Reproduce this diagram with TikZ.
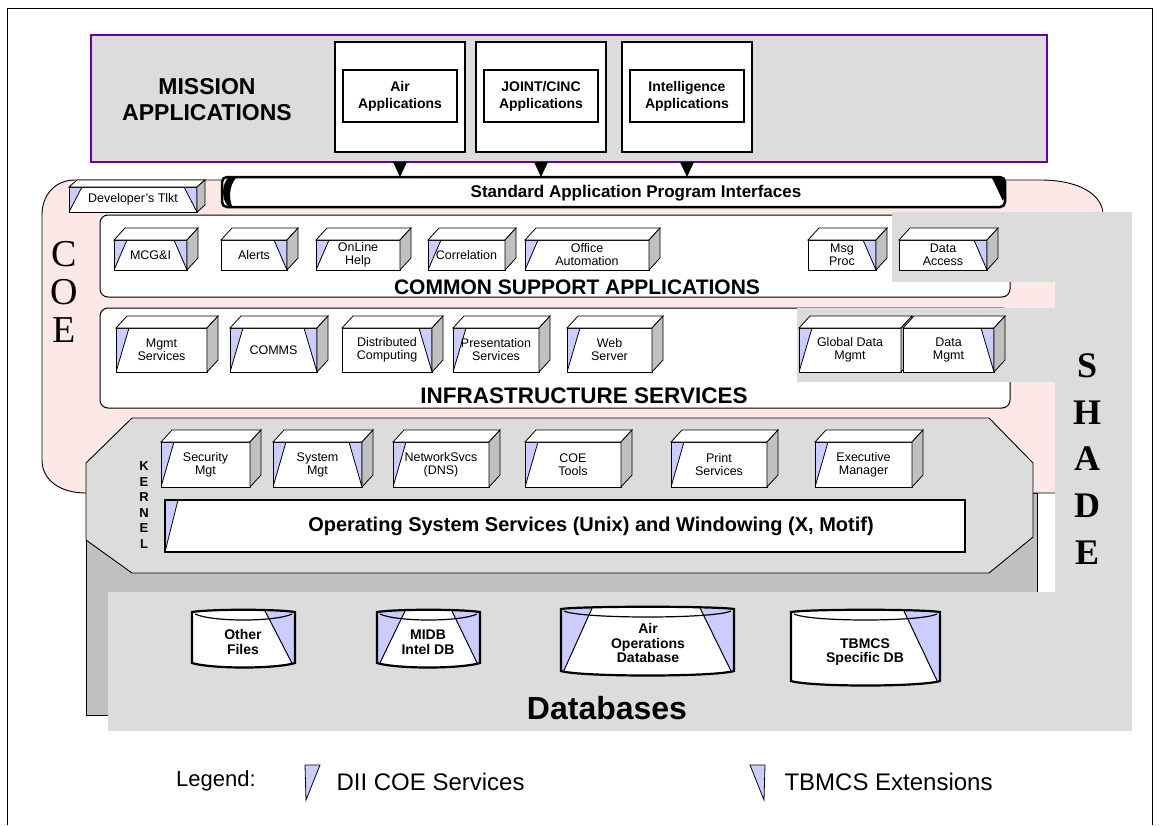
\documentclass[tikz,border=0pt]{standalone}
\usepackage{fontspec}
\setmainfont{Liberation Sans}
\newfontfamily\romanfont{Liberation Serif}

\definecolor{lavwedge}{RGB}{204,204,255}
\definecolor{shadegray}{RGB}{220,220,220}
\definecolor{sidegray}{RGB}{192,192,192}
\definecolor{coepink}{RGB}{253,232,232}
\definecolor{mispurple}{RGB}{102,0,153}

\tikzset{
  svcbox/.style={draw,fill=white,line width=0.8pt,outer sep=0pt,inner sep=1pt,align=center,
    font=\fontsize{12.5}{13}\selectfont},
  dii/.style={path picture={\fill[lavwedge,draw=black,line width=0.8pt]
    (path picture bounding box.north west) -- ++(13,0) -- (path picture bounding box.south west) -- cycle;}},
  tbm/.style={path picture={\fill[lavwedge,draw=black,line width=0.8pt]
    (path picture bounding box.north east) -- ++(-13,0) -- (path picture bounding box.south east) -- cycle;}},
  dtw/.style={path picture={\fill[lavwedge,draw=black,line width=0.8pt]
    (path picture bounding box.north west) -- ++(13,0) -- (path picture bounding box.south west) -- cycle;
    \fill[lavwedge,draw=black,line width=0.8pt]
    (path picture bounding box.north east) -- ++(-13,0) -- (path picture bounding box.south east) -- cycle;}},
  dbl/.style={path picture={\fill[lavwedge,draw=black,line width=1pt]
    (path picture bounding box.north west) -- ++(#1,0) -- (path picture bounding box.south west) -- cycle;}},
  dbr/.style={path picture={\fill[lavwedge,draw=black,line width=1pt]
    (path picture bounding box.north east) -- ++(-#1,0) -- (path picture bounding box.south east) -- cycle;}},
  dbboth/.style 2 args={path picture={\fill[lavwedge,draw=black,line width=1pt]
    (path picture bounding box.north west) -- ++(#1,0) -- (path picture bounding box.south west) -- cycle;
    \fill[lavwedge,draw=black,line width=1pt]
    (path picture bounding box.north east) -- ++(-#2,0) -- (path picture bounding box.south east) -- cycle;}},
  appbox/.style={draw,fill=white,line width=2.6pt,minimum width=130,minimum height=110,outer sep=0pt},
  appname/.style={draw,fill=white,line width=1.2pt,align=center,minimum width=114,minimum height=52,
    font=\bfseries\fontsize{14}{17}\selectfont},
  layerbox/.style={draw,fill=white,line width=1pt,rounded corners=8pt,minimum width=910,outer sep=0pt},
  layertitle/.style={font=\bfseries\fontsize{21}{23}\selectfont},
  dbname/.style={align=center,font=\bfseries\fontsize{14}{14.5}\selectfont},
  legendtext/.style={anchor=west,font=\fontsize{24}{26}\selectfont},
}

% faces of a 3D box on top of a named node
\newcommand{\cubefaces}[3]{%
  \draw[fill=white,line width=0.8pt] (#1.north west) -- ([shift={(#2,-#3)}]#1.north west)
    -- ([shift={(#2,-#3)}]#1.north east) -- (#1.north east) -- cycle;
  \draw[fill=sidegray,line width=0.8pt] (#1.north east) -- ([shift={(#2,-#3)}]#1.north east)
    -- ([shift={(#2,-#3)}]#1.south east) -- (#1.south east) -- cycle;}
% name, left, right, top, bottom, wedges, text
\newcommand{\svc}[7]{%
  \node[svcbox,#6,minimum width={#3-#2},minimum height={#5-#4}] (#1) at ({(#2+#3)/2},{(#4+#5)/2}) {#7};
  \cubefaces{#1}{11}{12}}
% left, right, top, bottom, wedges
\newcommand{\drum}[5]{%
  \draw[line width=2.2pt,fill=white,#5] ({#1},{#3}) -- ({#1},{#4-4})
    .. controls ({#1+20},{#4+2}) and ({#2-20},{#4+2}) .. ({#2},{#4-4}) -- ({#2},{#3})
    .. controls ({#2-20},{#3-3}) and ({#1+20},{#3-3}) .. cycle;
  \draw[line width=1.2pt] ({#1+3},{#3+2}) .. controls ({#1+20},{#3+10}) and ({#2-20},{#3+10}) .. ({#2-3},{#3+2});}

\begin{document}
\begin{tikzpicture}[x=1pt,y=-1pt]
\useasboundingbox (0,0) rectangle (1159,825);
\draw[line width=1pt] (7,825) -- (7,8) -- (1152,8) -- (1152,825);

% mission applications
\node[draw=mispurple,fill=shadegray,line width=1.2pt,minimum width=956,minimum height=127,outer sep=0pt] (mission) at (569,98.5) {};
\node[align=center,font=\bfseries\fontsize{23}{26}\selectfont] (mislabel) at (207,100) {MISSION\\APPLICATIONS};
\node[appbox] (air) at (400,97) {};
\node[appname] (airname) at (400,96) {Air\\Applications};
\node[appbox] (joint) at (541,97) {};
\node[appname] (jointname) at (541,96) {JOINT/CINC\\Applications};
\node[appbox] (intel) at (687,97) {};
\node[appname] (intelname) at (687,96) {Intelligence\\Applications};

% kernel base and COE region
\draw[fill=sidegray,line width=0.9pt] (86,493) rectangle (1037,715);
\draw[fill=coepink,line width=0.9pt] (42,215) .. controls (42,195) and (55,180) .. (75,180) -- (1040,180)
  .. controls (1080,180) and (1103,195) .. (1103,215) -- (1103,493) -- (86,493)
  .. controls (60,493) and (42,480) .. (42,460) -- cycle;

% API bar
\node[draw,fill=white,line width=2.5pt,rounded corners=5pt,minimum width=783,minimum height=30,outer sep=0pt] (api) at (613.5,192) {};
\node[font=\bfseries\fontsize{17}{19}\selectfont] (apilabel) at (636,193) {Standard Application Program Interfaces};
\fill (236,178) -- (228,178) .. controls (222,184) and (221,199) .. (228,206) -- (232,206) .. controls (229,198) and (229,186) .. (236,178) -- cycle;
\fill (992,178) -- (1003,178) .. controls (1006,186) and (1006,194) .. (1003,201) -- cycle;
\fill (air |- mission.south) ++(-7,0) -- ++(14,0) -- (air |- api.north) -- cycle;
\fill (joint |- mission.south) ++(-7,0) -- ++(14,0) -- (joint |- api.north) -- cycle;
\fill (intel |- mission.south) ++(-7,0) -- ++(14,0) -- (intel |- api.north) -- cycle;

% developer's toolkit
\node[svcbox,dtw,minimum width=128,minimum height=25] (devtk) at (133,199.5) {Developer's Tlkt};
\cubefaces{devtk}{8}{7}

% layers
\node[layerbox,minimum height=82] (csa) at (555,256) {};
\node[layerbox,minimum height=100] (infra) at (555,358) {};

% shade
\fill[shadegray] (892,212) rectangle (1132,282);
\fill[shadegray] (797,308) rectangle (1132,382);
\fill[shadegray] (1055,212) rectangle (1132,592);
\node[fill=shadegray,minimum width=1024,minimum height=139,outer sep=0pt] (dbarea) at (620,661.5) {};

% common support applications
\svc{mcgi}{114}{187}{240}{270}{dtw}{MCG\&I}
\svc{alerts}{221}{287}{240}{270}{tbm}{Alerts}
\svc{help}{316}{400}{240}{270}{dii}{OnLine\\Help}
\svc{correl}{428}{505}{240}{270}{dii}{Correlation}
\svc{office}{525}{649}{240}{270}{dii}{Office\\Automation}
\svc{msgproc}{808}{876}{240}{270}{tbm}{Msg\\Proc}
\svc{dataacc}{899}{987}{240}{270}{tbm}{Data\\Access}
\node[layertitle] (csalabel) at (577,287) {COMMON SUPPORT APPLICATIONS};

% infrastructure services
\svc{mgmt}{116}{207}{328}{372}{dii}{Mgmt\\Services}
\svc{comms}{230}{317}{328}{372}{dtw}{COMMS}
\svc{distcomp}{342}{432}{328}{372}{tbm}{Distributed\\Computing}
\svc{present}{453}{539}{328}{372}{dii}{Presentation\\Services}
\svc{websrv}{567}{652}{328}{372}{dii}{Web\\Server}
\svc{globdata}{799}{901}{328}{372}{dii}{Global Data\\Mgmt}
\svc{datamgmt}{903}{994}{328}{372}{tbm}{Data\\Mgmt}
\node[layertitle,font=\bfseries\fontsize{22.5}{24}\selectfont] (infralabel) at (584,396) {INFRASTRUCTURE SERVICES};

% kernel
\draw[fill=shadegray,line width=0.9pt] (132,418) -- (989,418) -- (1033,463) -- (1033,537) -- (989,573)
  -- (132,573) -- (86,540) -- (86,463) -- cycle;
\node[align=center,font=\bfseries\fontsize{13}{15.5}\selectfont] (kernel) at (144,505) {K\\E\\R\\N\\E\\L};
\svc{secmgt}{161}{250}{442}{487}{dii}{Security\\Mgt}
\svc{sysmgt}{273}{362}{442}{487}{dtw}{System\\Mgt}
\svc{netsvc}{393}{489}{442}{487}{dii}{NetworkSvcs\\(DNS)}
\svc{coetools}{525}{621}{442}{487}{dii}{COE\\Tools}
\svc{printsvc}{671}{767}{442}{487}{dii}{Print\\Services}
\svc{execmgr}{815}{912}{442}{487}{dii}{Executive\\Manager}
\node[draw,fill=white,line width=2.6pt,minimum width=800,minimum height=52,outer sep=0pt,dii] (osbar) at (565,526) {};
\node[font=\bfseries\fontsize{20}{22}\selectfont] (oslabel) at (591,526) {Operating System Services (Unix) and Windowing (X, Motif)};

% databases
\drum{192}{295}{612}{667}{dbr=31}
\node[dbname] (otherdb) at (243,642) {Other\\Files};
\drum{377}{480}{612}{667}{dbboth={29}{29}}
\node[dbname] (midb) at (428,642) {MIDB\\Intel DB};
\drum{561}{734}{609}{675}{dbboth={32}{35}}
\node[dbname] (airops) at (648,643) {Air\\Operations\\Database};
\drum{791}{940}{612}{685}{dbr=37}
\node[dbname] (tbmcsdb) at (865,652) {TBMCS\\Specific DB};
\node[font=\bfseries\fontsize{32}{34}\selectfont] (dblabel) at (607,708) {Databases};

% big letters
\node[align=center,font=\romanfont\fontsize{38}{38}\selectfont] (coe) at (64,292) {C\\O\\E};
\node[align=center,font=\romanfont\bfseries\fontsize{36}{46.75}\selectfont] (shade) at (1087,459) {S\\H\\A\\D\\E};

% legend
\node[font=\fontsize{22}{24}\selectfont] (legend) at (216,781) {Legend:};
\draw[fill=lavwedge,line width=0.8pt] (305,765) -- (320,765) -- (306,800) -- cycle;
\node[legendtext] (diilabel) at (333,782) {DII COE Services};
\draw[fill=lavwedge,line width=0.8pt] (750,765) -- (765,765) -- (764,800) -- cycle;
\node[legendtext] (tbmlabel) at (781,782) {TBMCS Extensions};
\end{tikzpicture}
\end{document}
